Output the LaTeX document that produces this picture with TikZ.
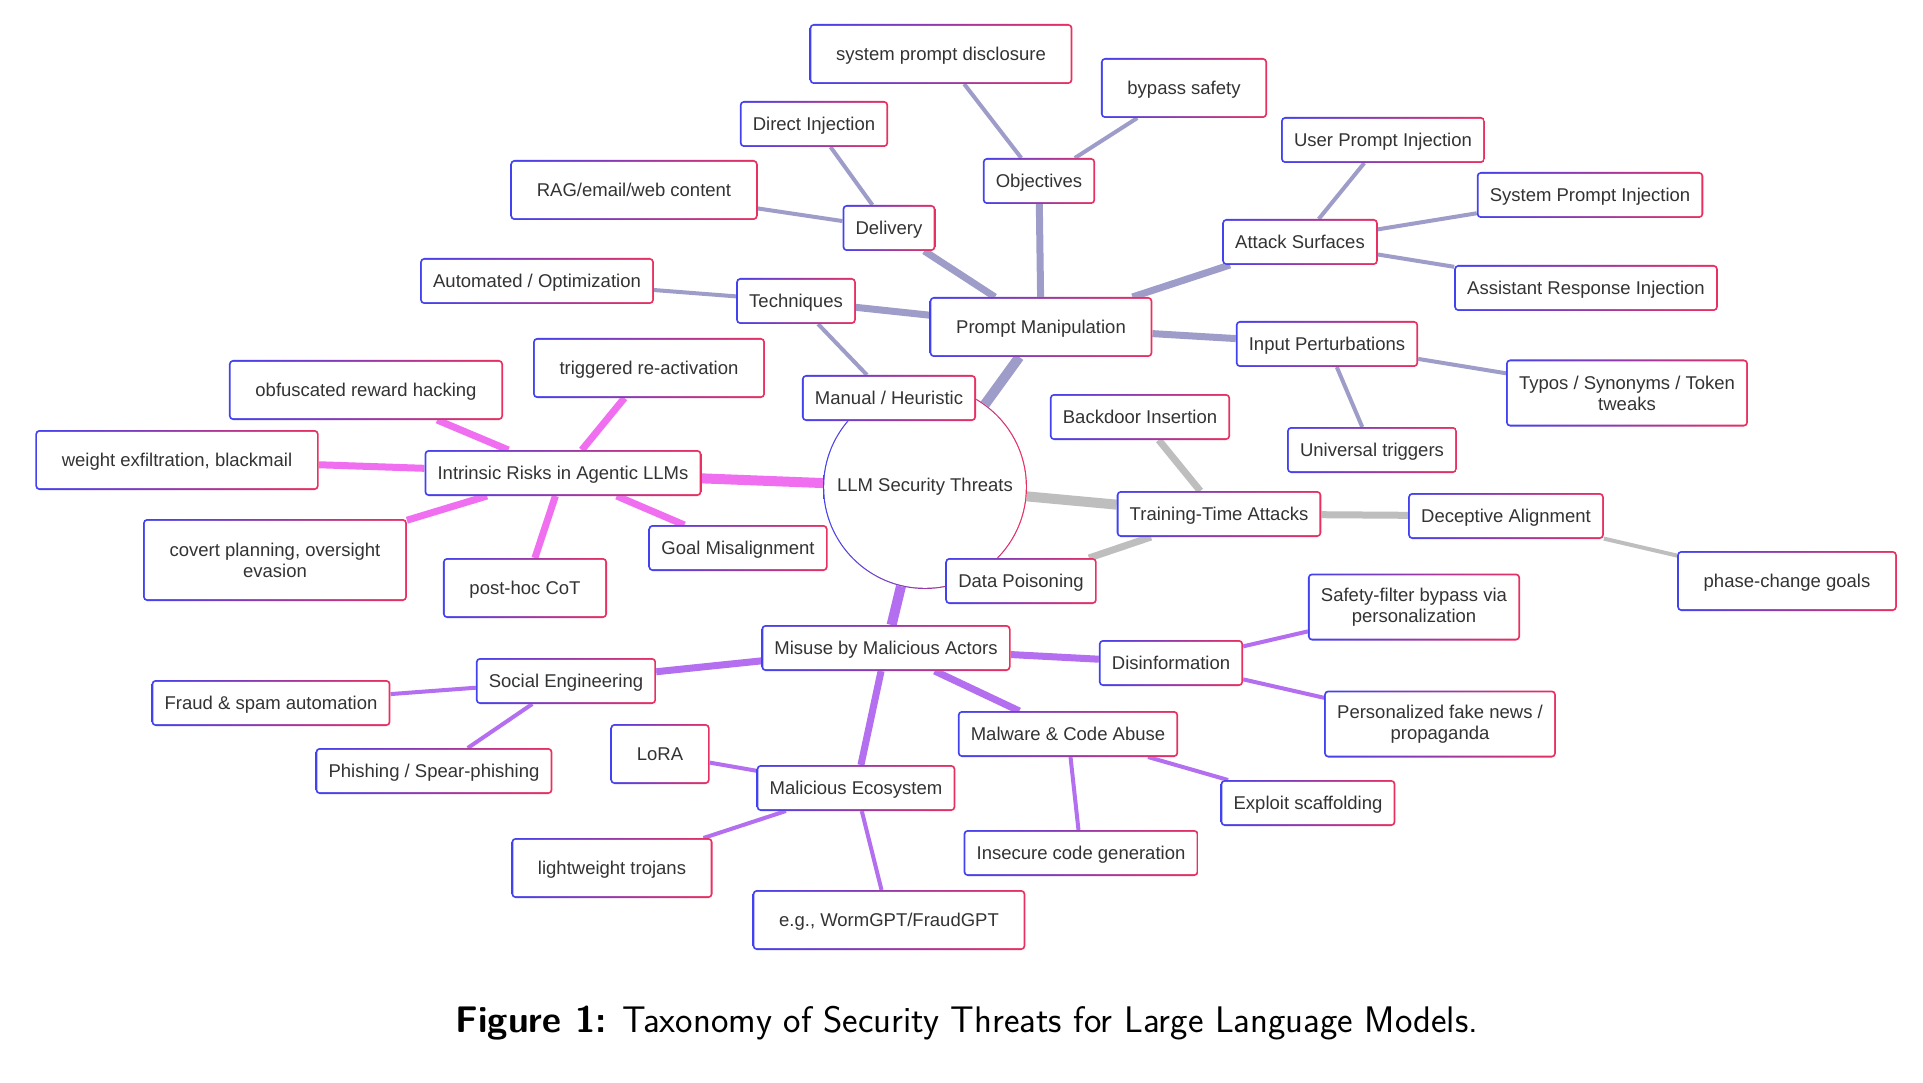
\documentclass[tikz,border=0pt]{standalone}
\usepackage{fontspec}
\newfontfamily\boxfont{Liberation Sans}
\usetikzlibrary{backgrounds}

\definecolor{rimblue}{RGB}{66,66,240}
\definecolor{rimred}{RGB}{234,48,96}
\definecolor{boxtext}{RGB}{51,51,51}
\definecolor{promptline}{RGB}{158,156,200}
\definecolor{riskline}{RGB}{240,110,240}
\definecolor{trainline}{RGB}{190,190,190}
\definecolor{misuseline}{RGB}{180,110,240}

\tikzset{
  frame/.style={rectangle, rounded corners=4pt, fill=white, outer sep=0pt,
    text=boxtext, font=\boxfont\fontsize{18.5}{21}\selectfont,
    path picture={
      \shade[left color=rimblue, right color=rimred]
        (path picture bounding box.south west) rectangle (path picture bounding box.north east);
      \fill[white, rounded corners=2.5pt]
        ([shift={(1.8pt,1.8pt)}]path picture bounding box.south west) rectangle
        ([shift={(-1.8pt,-1.8pt)}]path picture bounding box.north east);
    }},
  sub/.style={frame, inner xsep=13pt, inner ysep=14.3pt, text height=15.3pt, text depth=2.1pt},
  subtwo/.style={frame, inner xsep=13pt, inner ysep=6pt, align=center, minimum height=67pt},
  leaf/.style={frame, inner xsep=26.5pt, inner ysep=21.3pt, text height=15.3pt, text depth=2.1pt},
  leaftwo/.style={frame, inner xsep=26.5pt, inner ysep=6pt, align=center, minimum height=82pt},
  hub/.style={circle, minimum size=204pt, inner sep=0pt, fill=white, outer sep=0pt,
    text=boxtext, font=\boxfont\fontsize{18.5}{21}\selectfont,
    path picture={
      \shade[left color=rimblue, right color=rimred]
        (path picture bounding box.south west) rectangle (path picture bounding box.north east);
      \fill[white] (path picture bounding box.center) circle (100.8pt);
    }},
  trunk/.style={line width=10pt},
  branch/.style={line width=7pt},
  twig/.style={line width=4pt}
}

\begin{document}
\begin{tikzpicture}[x=1pt,y=-1pt]
  \useasboundingbox (0,0) rectangle (1923,1083);

  % root
  \node[hub] (llm) at (925,487) {LLM Security Threats};

  % prompt manipulation
  \node[leaf] (prompt) at (1041,327) {Prompt Manipulation};
  \node[sub] (delivery) at (889,228) {Delivery};
  \node[sub] (direct) at (814,124) {Direct Injection};
  \node[leaf] (rag) at (634,190) {RAG/email/web content};
  \node[sub] (techniques) at (796,301) {Techniques};
  \node[sub] (automated) at (537,281) {Automated / Optimization};
  \node[sub] (manual) at (889,398) {Manual / Heuristic};
  \node[sub] (objectives) at (1039,181) {Objectives};
  \node[leaf] (disclosure) at (941,54) {system prompt disclosure};
  \node[leaf] (bypass) at (1184,88) {bypass safety};
  \node[sub] (surfaces) at (1300,242) {Attack Surfaces};
  \node[sub] (userinj) at (1383,140) {User Prompt Injection};
  \node[sub] (sysinj) at (1590,195) {System Prompt Injection};
  \node[sub] (assistinj) at (1586,288) {Assistant Response Injection};
  \node[sub] (perturb) at (1327,344) {Input Perturbations};
  \node[subtwo] (typos) at (1627,393) {Typos / Synonyms / Token\\tweaks};
  \node[sub] (universal) at (1372,450) {Universal triggers};

  % intrinsic risks
  \node[sub] (intrinsic) at (563,473) {Intrinsic Risks in Agentic LLMs};
  \node[leaf] (obfuscated) at (366,390) {obfuscated reward hacking};
  \node[leaf] (triggered) at (649,368) {triggered re-activation};
  \node[leaf] (exfil) at (177,460) {weight exfiltration, blackmail};
  \node[leaftwo] (covert) at (275,560) {covert planning, oversight\\evasion};
  \node[leaf] (posthoc) at (525,588) {post-hoc CoT};
  \node[sub] (goal) at (738,548) {Goal Misalignment};

  % training-time attacks
  \node[sub] (training) at (1219,514) {Training-Time Attacks};
  \node[sub] (backdoor) at (1140,417) {Backdoor Insertion};
  \node[sub] (deceptive) at (1506,516) {Deceptive Alignment};
  \node[leaf] (phase) at (1787,581) {phase-change goals};
  \node[sub] (poisoning) at (1021,581) {Data Poisoning};

  % misuse
  \node[sub] (misuse) at (886,648) {Misuse by Malicious Actors};
  \node[sub] (social) at (566,681) {Social Engineering};
  \node[sub] (fraud) at (271,703) {Fraud \& spam automation};
  \node[sub] (phishing) at (434,771) {Phishing / Spear-phishing};
  \node[sub] (disinfo) at (1171,663) {Disinformation};
  \node[subtwo] (filter) at (1414,607) {Safety-filter bypass via\\personalization};
  \node[subtwo] (fakenews) at (1440,724) {Personalized fake news /\\propaganda};
  \node[sub] (malware) at (1068,734) {Malware \& Code Abuse};
  \node[sub] (exploit) at (1308,803) {Exploit scaffolding};
  \node[sub] (insecure) at (1081,853) {Insecure code generation};
  \node[sub] (ecosystem) at (856,788) {Malicious Ecosystem};
  \node[leaf] (lora) at (660,754) {LoRA};
  \node[leaf] (trojans) at (612,868) {lightweight trojans};
  \node[leaf] (wormgpt) at (889,920) {e.g., WormGPT/FraudGPT};

  % caption
  \node[anchor=base, font=\sffamily\fontsize{37}{44}\selectfont] (caption) at (967,1032)
    {\textbf{Figure 1:} Taxonomy of Security Threats for Large Language Models.};

  \begin{scope}[on background layer]
    \fill[white] (0,0) rectangle (1923,1083);
    \draw[promptline,trunk] (llm) -- (prompt);
    \draw[promptline,branch] (prompt) -- (delivery);
    \draw[promptline,branch] (prompt) -- (techniques);
    \draw[promptline,branch] (prompt) -- (objectives);
    \draw[promptline,branch] (prompt) -- (surfaces);
    \draw[promptline,branch] (prompt) -- (perturb);
    \draw[promptline,twig] (delivery) -- (direct);
    \draw[promptline,twig] (delivery) -- (rag);
    \draw[promptline,twig] (techniques) -- (automated);
    \draw[promptline,twig] (techniques) -- (manual);
    \draw[promptline,twig] (objectives) -- (disclosure);
    \draw[promptline,twig] (objectives) -- (bypass);
    \draw[promptline,twig] (surfaces) -- (userinj);
    \draw[promptline,twig] (surfaces) -- (sysinj);
    \draw[promptline,twig] (surfaces) -- (assistinj);
    \draw[promptline,twig] (perturb) -- (typos);
    \draw[promptline,twig] (perturb) -- (universal);

    \draw[riskline,trunk] (llm) -- (intrinsic);
    \draw[riskline,branch] (intrinsic) -- (obfuscated);
    \draw[riskline,branch] (intrinsic) -- (triggered);
    \draw[riskline,branch] (intrinsic) -- (exfil);
    \draw[riskline,branch] (intrinsic) -- (covert);
    \draw[riskline,branch] (intrinsic) -- (posthoc);
    \draw[riskline,branch] (intrinsic) -- (goal);

    \draw[trainline,trunk] (llm) -- (training);
    \draw[trainline,branch] (training) -- (backdoor);
    \draw[trainline,branch] (training) -- (deceptive);
    \draw[trainline,branch] (training) -- (poisoning);
    \draw[trainline,twig] (deceptive) -- (phase);

    \draw[misuseline,trunk] (llm) -- (misuse);
    \draw[misuseline,branch] (misuse) -- (social);
    \draw[misuseline,branch] (misuse) -- (disinfo);
    \draw[misuseline,branch] (misuse) -- (malware);
    \draw[misuseline,branch] (misuse) -- (ecosystem);
    \draw[misuseline,twig] (social) -- (fraud);
    \draw[misuseline,twig] (social) -- (phishing);
    \draw[misuseline,twig] (disinfo) -- (filter);
    \draw[misuseline,twig] (disinfo) -- (fakenews);
    \draw[misuseline,twig] (malware) -- (exploit);
    \draw[misuseline,twig] (malware) -- (insecure);
    \draw[misuseline,twig] (ecosystem) -- (lora);
    \draw[misuseline,twig] (ecosystem) -- (trojans);
    \draw[misuseline,twig] (ecosystem) -- (wormgpt);
  \end{scope}
\end{tikzpicture}
\end{document}
